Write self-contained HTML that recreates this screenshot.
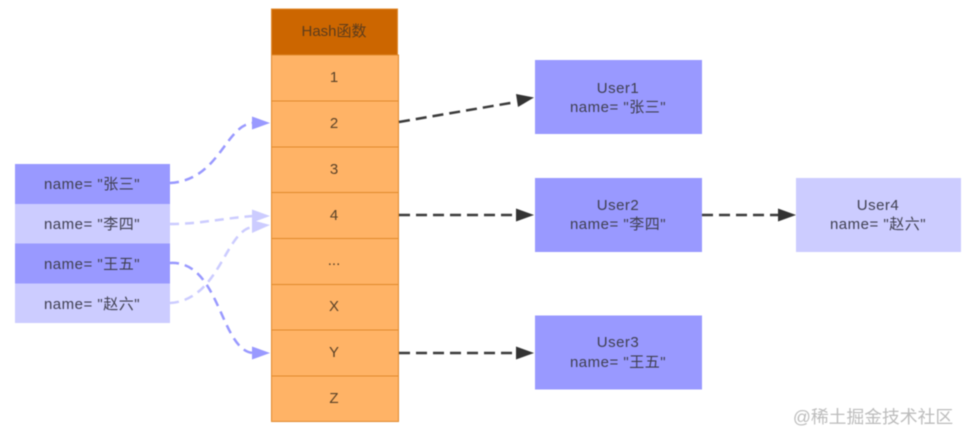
<!DOCTYPE html>
<html><head><meta charset="utf-8"><style>
html,body{margin:0;padding:0;background:#fff;width:968px;height:444px;overflow:hidden}
svg{display:block;filter:blur(.5px)}
text{font-family:"Liberation Sans","Noto Sans CJK SC",sans-serif;font-size:15px;fill:#3f3f50;text-anchor:middle}
text.n{letter-spacing:.5px}
text.o{fill:#5a4228}
</style></head><body>
<svg width="968" height="444" viewBox="0 0 968 444" xmlns="http://www.w3.org/2000/svg">
<rect x="271.500" y="9" width="126" height="46" fill="#cc6600" stroke="#e08a2c"/>
<g fill="#ffb366" stroke="#e08a2c" stroke-width="1">
<rect x="271.500" y="55" width="127" height="46"/>
<rect x="271.500" y="101" width="127" height="46"/>
<rect x="271.500" y="147" width="127" height="45.500"/>
<rect x="271.500" y="192.500" width="127" height="46"/>
<rect x="271.500" y="238.500" width="127" height="46"/>
<rect x="271.500" y="284.500" width="127" height="45.500"/>
<rect x="271.500" y="330" width="127" height="46"/>
<rect x="271.500" y="376" width="127" height="45.500"/>
</g>
<text class="o" x="334" y="36" style="fill:#5c3c1c">Hash函数</text>
<text class="o" x="334" y="82">1</text>
<text class="o" x="334" y="128">2</text>
<text class="o" x="334" y="174">3</text>
<text class="o" x="334" y="220">4</text>
<text class="o" x="334" y="265">...</text>
<text class="o" x="334" y="311">X</text>
<text class="o" x="334" y="357">Y</text>
<text class="o" x="334" y="403">Z</text>
<rect x="15" y="164" width="155" height="40" fill="#9999ff"/>
<rect x="15" y="204" width="155" height="39.500" fill="#ccccff"/>
<rect x="15" y="243.500" width="155" height="40" fill="#9999ff"/>
<rect x="15" y="283.500" width="155" height="39.500" fill="#ccccff"/>
<text class="n" x="92" y="189">name= "张三"</text>
<text class="n" x="92" y="229">name= "李四"</text>
<text class="n" x="92" y="269">name= "王五"</text>
<text class="n" x="92" y="309">name= "赵六"</text>
<rect x="535" y="60" width="167" height="74" fill="#9999ff"/>
<rect x="535" y="178" width="167" height="74" fill="#9999ff"/>
<rect x="535" y="315.500" width="167" height="74" fill="#9999ff"/>
<rect x="796" y="178" width="165" height="74" fill="#ccccff"/>
<text class="n" x="618" y="93">User1</text><text class="n" x="618" y="112">name= "张三"</text>
<text class="n" x="618" y="210">User2</text><text class="n" x="618" y="229">name= "李四"</text>
<text class="n" x="618" y="347">User3</text><text class="n" x="618" y="367">name= "王五"</text>
<text class="n" x="878" y="210">User4</text><text class="n" x="878" y="229">name= "赵六"</text>
<g fill="none" stroke-width="2.500" stroke-dasharray="9 6">
<path d="M170 183C220 180 225 125 253 123" stroke="#9999ff"/>
<path d="M170 224C200 224 225 218 253 216" stroke="#ccccff"/>
<path d="M170 303C220 300 225 230 253 227" stroke="#ccccff"/>
<path d="M170 263C220 260 220 350 253 353" stroke="#9999ff"/>
</g>
<polygon points="252,116.500 270,123 252,129.500" fill="#9999ff"/>
<polygon points="252,209.500 270,216 252,222.500" fill="#ccccff"/>
<polygon points="252,220 270,225 252,233" fill="#ccccff"/>
<polygon points="252,346.500 270,353 252,359.500" fill="#9999ff"/>
<g fill="none" stroke="#3a3a3a" stroke-width="2.500" stroke-dasharray="11 6">
<path d="M399 122L516 102"/>
<path d="M399 215H516"/>
<path d="M399 353H516"/>
<path d="M702 215H778"/>
</g>
<g fill="#333">
<polygon points="534,97.500 516,94 518,107"/>
<polygon points="534,215 516,208.500 516,221.500"/>
<polygon points="534,353 516,346.500 516,359.500"/>
<polygon points="796,215 778,208.500 778,221.500"/>
</g>
<text x="873" y="423" style="font-size:17.800px;fill:#bcbcbc">@稀土掘金技术社区</text>
</svg>
</body></html>
